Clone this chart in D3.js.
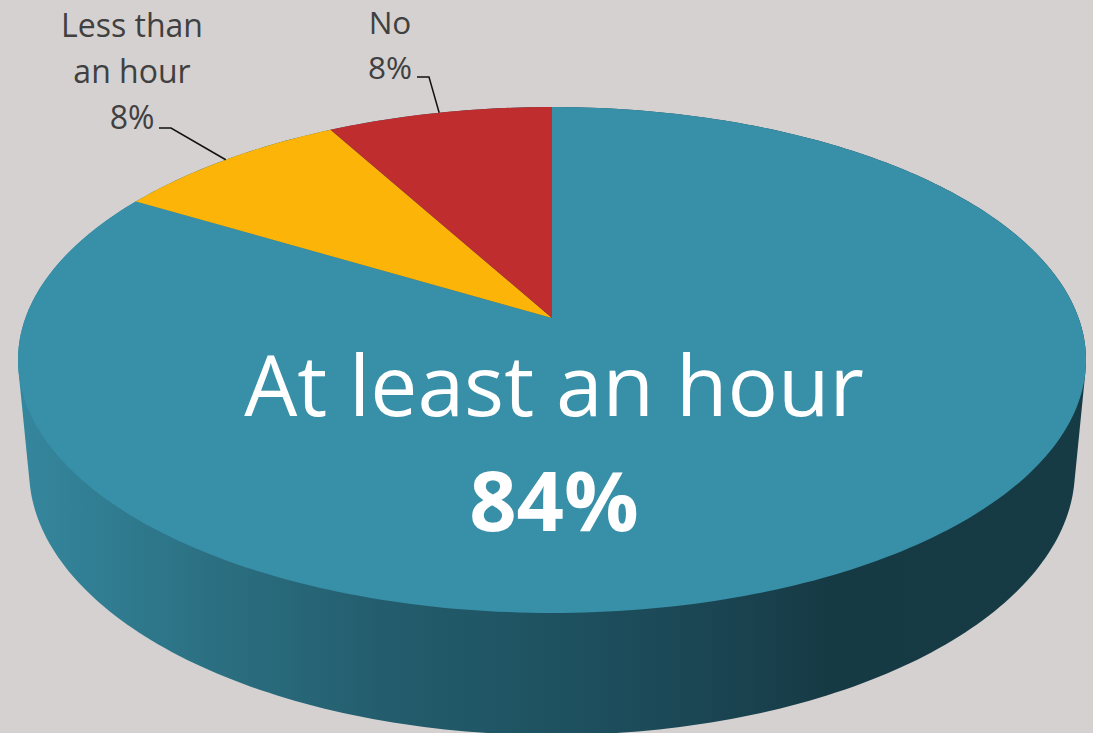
<!DOCTYPE html>
<meta charset="utf-8" />
<style>
  html, body { margin: 0; padding: 0; background: #d5d1d0; overflow: hidden; }
  text { font-family: "Open Sans", sans-serif; }
</style>
<body>
  <div id="chart"></div>
  <script src="https://cdn.jsdelivr.net/npm/d3@7"></script>
  <script>
    // clockwise from 12 o'clock
    const categories = ["At least an hour", "Less than an hour", "No"];
    const shares = [83.6, 8.4, 8];
    const colors = ["#388fa8", "#fdb408", "#c02d2e"];

    const width = 1093;
    const height = 733;

    const svg = d3.select("#chart").append("svg").attr("width", width).attr("height", height);
    svg.append("rect").attr("width", width).attr("height", height).attr("fill", "#d5d1d0");

    // side of the pie, dark towards the right
    const grad = svg.append("defs").append("linearGradient")
      .attr("id", "side").attr("gradientUnits", "userSpaceOnUse")
      .attr("x1", 18).attr("x2", 1086).attr("y1", 0).attr("y2", 0);
    [[0, "#35879e"], [0.18, "#2b7082"], [0.35, "#235c6c"], [0.5, "#1e5261"], [0.65, "#1b4553"], [0.76, "#163a44"], [1, "#163b45"]]
      .forEach((s) => grad.append("stop").attr("offset", s[0]).attr("stop-color", s[1]));

    // tilted disc: perspective puts the apex above the centre of the ellipse
    const k = 0.166;
    const xScale = d3.scaleLinear().domain([-1, 1]).range([552 - 526.6, 552 + 526.6]);
    const yTop = d3.scaleLinear().domain([-1, 1]).range([318 - 246, 318 + 246]);
    const xLow = d3.scaleLinear().domain([-1, 1]).range([552 - 515.7, 552 + 515.7]);
    const yLow = d3.scaleLinear().domain([-1, 1]).range([426 - 257.7, 426 + 257.7]);

    function project(angle, xs, ys) {
      const u = Math.sin(angle);
      const v = -Math.cos(angle);
      const w = 1 - k * v;
      return [xs(u / w), ys(v / w)];
    }
    const rim = (a) => project(a, xScale, yTop);
    const line = d3.line();

    // silhouette of both rims gives the outer wall
    const steps = d3.range(0, 2 * Math.PI, Math.PI / 180);
    const hull = d3.polygonHull(steps.map(rim).concat(steps.map((a) => project(a, xLow, yLow))));
    svg.append("path").attr("d", line(hull) + "Z").attr("fill", "url(#side)");

    const arcs = d3.pie().sort(null)(shares);

    svg.selectAll("path.slice")
      .data(arcs)
      .enter()
      .append("path")
      .attr("class", "slice")
      .attr("fill", (d, i) => colors[i])
      .attr("d", (d) => {
        const n = Math.ceil((d.endAngle - d.startAngle) / (Math.PI / 180));
        const pts = d3.range(n + 1).map((j) => rim(d.startAngle + ((d.endAngle - d.startAngle) * j) / n));
        return line([[xScale(0), yTop(0)]].concat(pts)) + "Z";
      });

    // big label inside the teal slice
    const big = svg.append("g").attr("text-anchor", "middle").attr("fill", "white");
    big.append("text").attr("x", 554).attr("y", 416).attr("font-size", "84px").text(categories[0]);
    big.append("text").attr("x", 554).attr("y", 531).attr("font-size", "83px").attr("font-weight", "bold")
      .text(Math.round(shares[0]) + "%");

    // outside labels with leader lines to the middle of the rim of each slice
    const pct = (i) => Math.round(shares[i]) + "%";
    const outside = [
      { i: 1, x: 132, lines: ["Less than", "an hour", pct(1)], first: 37, step: 46, size: 32, elbow: [[159, 128], [171, 128]] },
      { i: 2, x: 390, lines: [categories[2], pct(2)], first: 34, step: 44.5, size: 31.5, elbow: [[417, 77], [429, 77]] },
    ];
    outside.forEach((o) => {
      const d = arcs[o.i];
      const end = rim((d.startAngle + d.endAngle) / 2);
      svg.append("path").attr("d", line(o.elbow.concat([end])))
        .attr("fill", "none").attr("stroke", "#111").attr("stroke-width", 1.5);
      svg.append("g").selectAll("text").data(o.lines).enter().append("text")
        .attr("x", o.x).attr("y", (t, j) => o.first + j * o.step)
        .attr("text-anchor", "middle").attr("font-size", o.size + "px").attr("fill", "#404040")
        .text((t) => t);
    });
  </script>
</body>
